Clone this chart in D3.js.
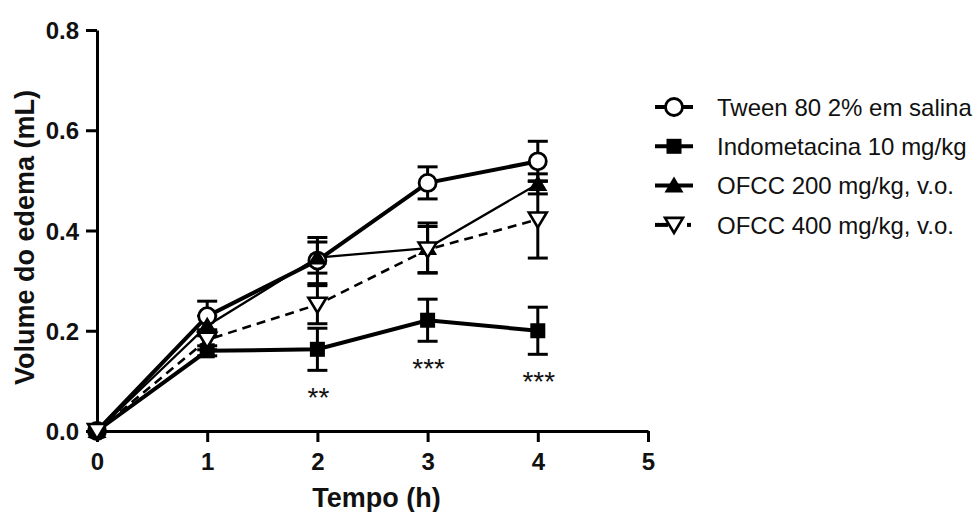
<!DOCTYPE html>
<html><head><meta charset="utf-8">
<script src="https://cdn.jsdelivr.net/npm/d3@7"></script>
<style>body{margin:0;background:#fff}svg{display:block}</style>
</head><body>
<script>
const times = [0, 1, 2, 3, 4];
const xTicks = [0, 1, 2, 3, 4, 5];
const yTicks = [0, 0.2, 0.4, 0.6, 0.8];
const seriesNames = ["Tween 80 2% em salina", "Indometacina 10 mg/kg", "OFCC 200 mg/kg, v.o.", "OFCC 400 mg/kg, v.o."];
const tweenMean = [0, 0.229, 0.340, 0.495, 0.538];
const tweenErr  = [0, 0.030, 0.046, 0.032, 0.040];
const indoMean  = [0, 0.160, 0.163, 0.221, 0.200];
const indoErr   = [0, 0.010, 0.042, 0.042, 0.047];
const ofcc200Mean = [0, 0.210, 0.346, 0.365, 0.493];
const ofcc200Err  = [0, 0.020, 0.031, 0.050, 0.020];
const ofcc400Mean = [0, 0.182, 0.252, 0.362, 0.422];
const ofcc400Err  = [0, 0.020, 0.038, 0.046, 0.077];
const sigLabels = ["", "", "**", "***", "***"];

const W = 977, H = 512;
const FONT = "Liberation Sans, Arial, sans-serif";
const svg = d3.select("body").append("svg").attr("width", W).attr("height", H);
const x = d3.scaleLinear().domain([0, 5]).range([97, 648]);
const y = d3.scaleLinear().domain([0, 0.8]).range([431, 30]);

const series = [
  {name: seriesNames[0], mean: tweenMean, err: tweenErr, sym: "circle", lw: 4, dash: null},
  {name: seriesNames[1], mean: indoMean, err: indoErr, sym: "square", lw: 4, dash: null},
  {name: seriesNames[2], mean: ofcc200Mean, err: ofcc200Err, sym: "tri", lw: 2.3, dash: null},
  {name: seriesNames[3], mean: ofcc400Mean, err: ofcc400Err, sym: "itri", lw: 2.6, dash: "9,6"}
];

// axes
const xAxis = d3.axisBottom(x).tickValues(xTicks).tickFormat(d3.format("d")).tickSize(11).tickSizeOuter(0);
const yAxis = d3.axisLeft(y).tickValues(yTicks).tickFormat(d3.format(".1f")).tickSize(11).tickSizeOuter(0);
const gx = svg.append("g").attr("transform", `translate(0,${y(0)})`).call(xAxis);
const gy = svg.append("g").attr("transform", `translate(${x(0)},0)`).call(yAxis);
[gx, gy].forEach(g => {
  g.select(".domain").attr("stroke", "#000").attr("stroke-width", 3);
  g.selectAll(".tick line").attr("stroke", "#000").attr("stroke-width", 3);
  g.selectAll(".tick text").attr("fill", "#111").attr("font-family", FONT)
    .attr("font-weight", "bold").attr("font-size", 24);
});
gx.selectAll(".tick text").attr("dy", "0.71em").attr("y", 22);
gy.selectAll(".tick text").attr("x", -18).attr("dy", "0.36em");

svg.append("text").attr("x", x(2.5) + 4).attr("y", 507).attr("text-anchor", "middle")
  .attr("font-family", FONT).attr("font-weight", "bold").attr("font-size", 27)
  .attr("fill", "#111").text("Tempo (h)");
svg.append("text").attr("transform", `translate(34,${y(0.4)+7}) rotate(-90)`).attr("text-anchor", "middle")
  .attr("font-family", FONT).attr("font-weight", "bold").attr("font-size", 27)
  .attr("fill", "#111").text("Volume do edema (mL)");

function drawSymbol(g, sym, cx, cy) {
  if (sym === "circle") {
    g.append("circle").attr("cx", cx).attr("cy", cy).attr("r", 8.5).attr("fill", "#fff").attr("stroke", "#000").attr("stroke-width", 2.8);
  } else if (sym === "square") {
    g.append("rect").attr("x", cx - 7.5).attr("y", cy - 7.5).attr("width", 15).attr("height", 15).attr("fill", "#000");
  } else if (sym === "tri") {
    g.append("path").attr("d", `M${cx},${cy-9}L${cx+9.5},${cy+7}L${cx-9.5},${cy+7}Z`).attr("fill", "#000");
  } else {
    g.append("path").attr("d", `M${cx-9},${cy-7}L${cx+9},${cy-7}L${cx},${cy+8}Z`).attr("fill", "#fff").attr("stroke", "#000").attr("stroke-width", 2.6).attr("stroke-linejoin", "miter");
  }
}

const line = d3.line().x((d, i) => x(times[i])).y(d => y(d));
const gl = svg.append("g");
series.forEach(s => {
  gl.append("path").attr("d", line(s.mean)).attr("fill", "none").attr("stroke", "#000")
    .attr("stroke-width", s.lw).attr("stroke-dasharray", s.dash);
});
// error bars
const ge = svg.append("g").attr("stroke", "#000").attr("stroke-width", 3);
series.forEach(s => {
  s.mean.forEach((m, i) => {
    const e = s.err[i];
    if (!e) return;
    const cx = x(times[i]);
    ge.append("line").attr("x1", cx).attr("x2", cx).attr("y1", y(m + e)).attr("y2", y(m - e));
    ge.append("line").attr("x1", cx - 10).attr("x2", cx + 10).attr("y1", y(m + e)).attr("y2", y(m + e));
    ge.append("line").attr("x1", cx - 10).attr("x2", cx + 10).attr("y1", y(m - e)).attr("y2", y(m - e));
  });
});
// markers
const gm = svg.append("g");
series.forEach(s => {
  s.mean.forEach((m, i) => drawSymbol(gm, s.sym, x(times[i]), y(m)));
});

// significance
sigLabels.forEach((t, i) => {
  if (!t) return;
  svg.append("text").attr("x", x(times[i]) + 1).attr("y", y(indoMean[i] - indoErr[i]) + 37)
    .attr("text-anchor", "middle").attr("font-family", FONT)
    .attr("font-size", 28).attr("fill", "#111").text(t);
});

// legend
const lg = svg.append("g");
series.forEach((s, i) => {
  const ly = 107 + i * 39.3;
  if (s.dash) {
    lg.append("line").attr("x1", 655).attr("x2", 668).attr("y1", ly).attr("y2", ly).attr("stroke", "#000").attr("stroke-width", 4);
    lg.append("line").attr("x1", 687).attr("x2", 691).attr("y1", ly).attr("y2", ly).attr("stroke", "#000").attr("stroke-width", 4);
  } else {
    lg.append("line").attr("x1", 655).attr("x2", 693).attr("y1", ly).attr("y2", ly).attr("stroke", "#000").attr("stroke-width", 4);
  }
  drawSymbol(lg, s.sym, 674, ly);
  lg.append("text").attr("x", 717).attr("y", ly).attr("dy", "0.36em").attr("font-family", FONT)
    .attr("font-size", 24).attr("fill", "#111").text(s.name);
});
</script>
</body></html>
